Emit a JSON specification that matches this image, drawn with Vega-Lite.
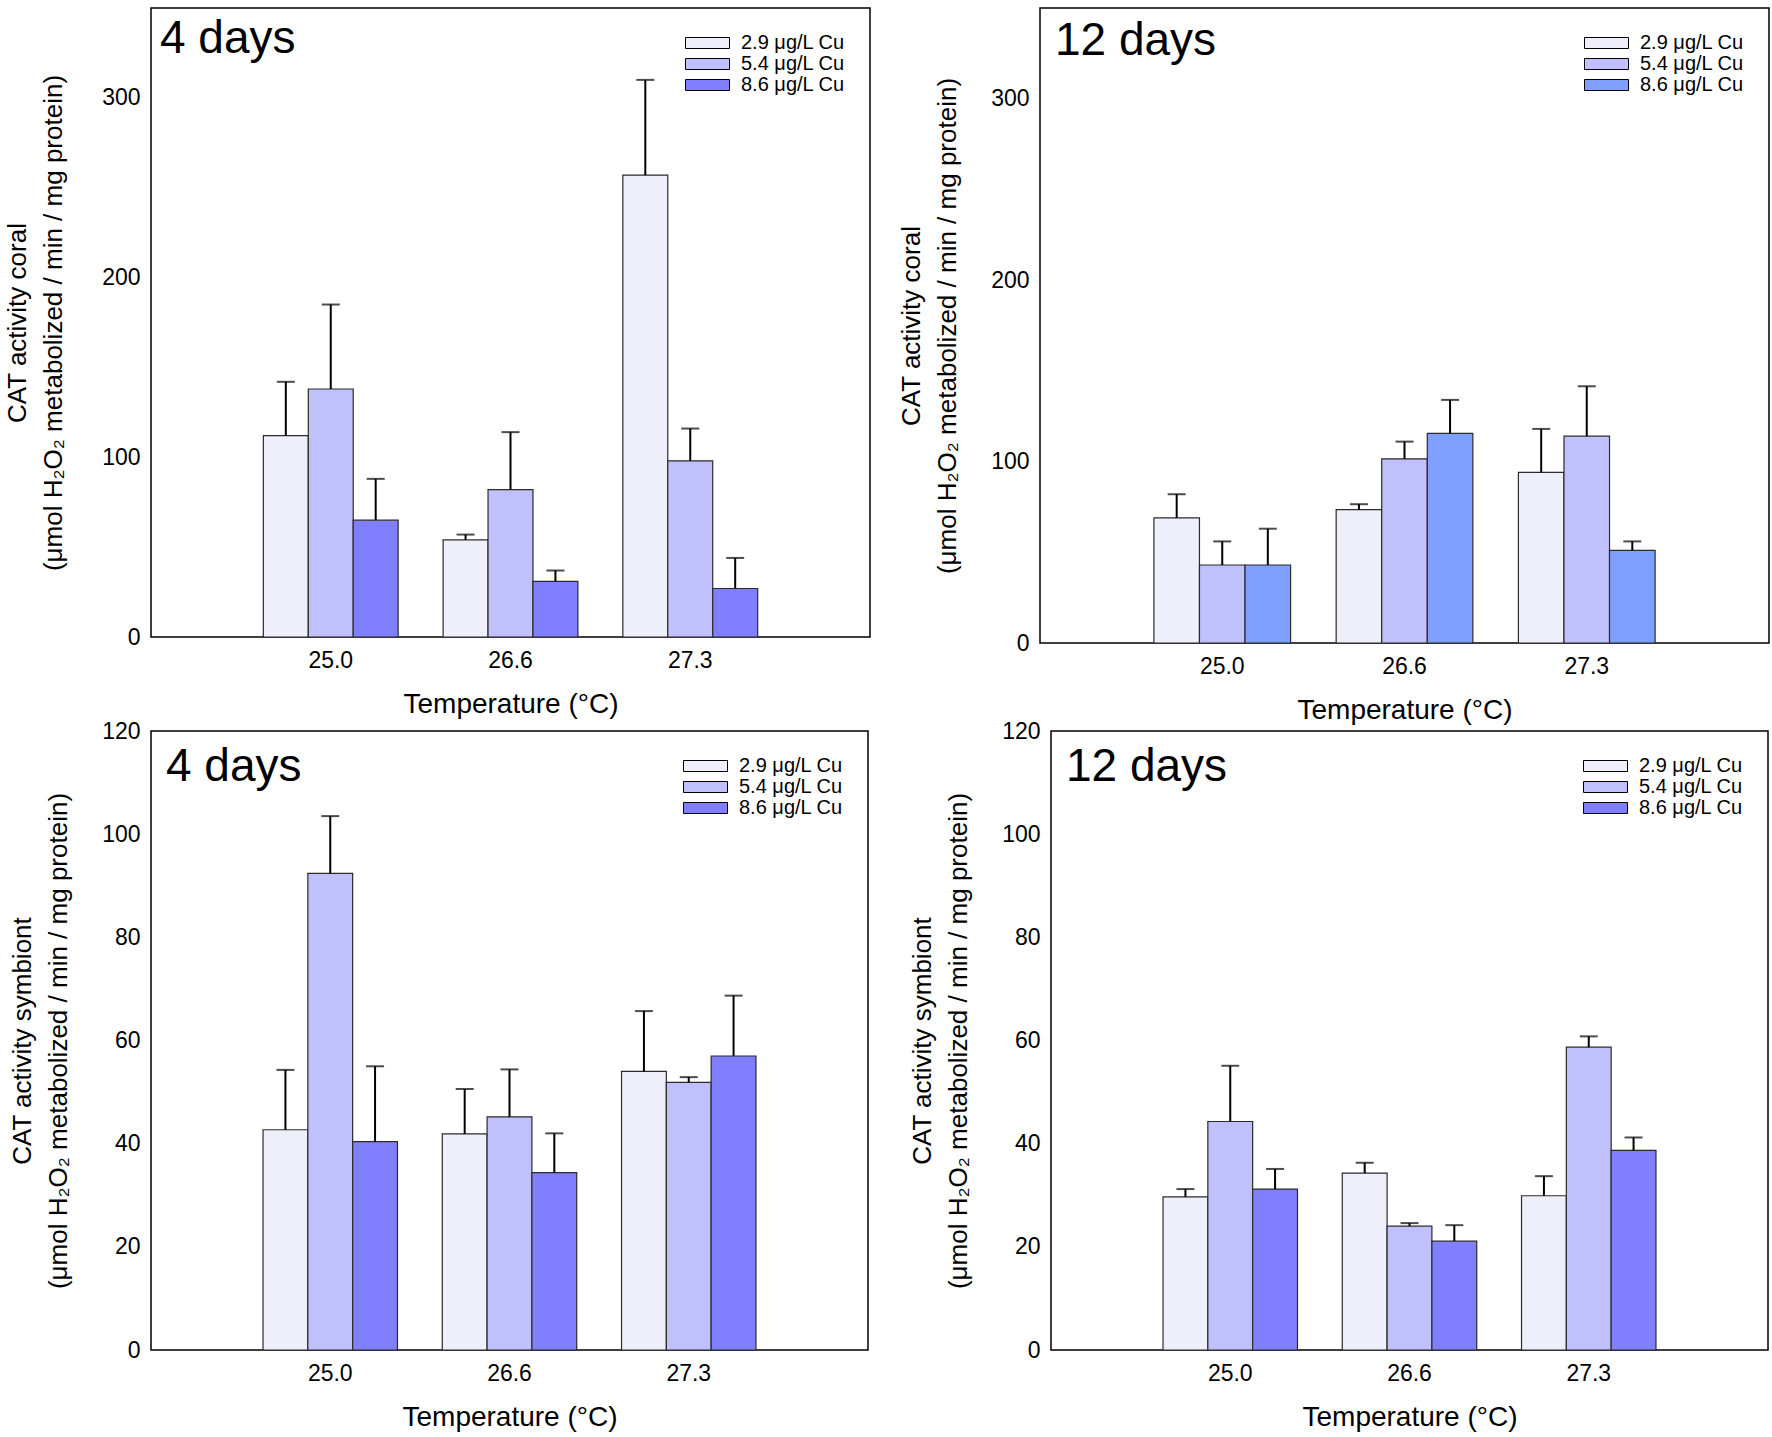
{
  "$schema": "https://vega.github.io/schema/vega-lite/v6.json",
  "background": "white",
  "padding": {"left": 3, "top": 7, "right": 2, "bottom": 2},
  "datasets": {
    "coral4": [
      {"temp": "25.0", "conc": "2.9 μg/L Cu", "mean": 112, "upper": 142},
      {"temp": "25.0", "conc": "5.4 μg/L Cu", "mean": 138, "upper": 185},
      {"temp": "25.0", "conc": "8.6 μg/L Cu", "mean": 65, "upper": 88},
      {"temp": "26.6", "conc": "2.9 μg/L Cu", "mean": 54, "upper": 57},
      {"temp": "26.6", "conc": "5.4 μg/L Cu", "mean": 82, "upper": 114},
      {"temp": "26.6", "conc": "8.6 μg/L Cu", "mean": 31, "upper": 37},
      {"temp": "27.3", "conc": "2.9 μg/L Cu", "mean": 257, "upper": 310},
      {"temp": "27.3", "conc": "5.4 μg/L Cu", "mean": 98, "upper": 116},
      {"temp": "27.3", "conc": "8.6 μg/L Cu", "mean": 27, "upper": 44}
    ],
    "coral12": [
      {"temp": "25.0", "conc": "2.9 μg/L Cu", "mean": 69, "upper": 82},
      {"temp": "25.0", "conc": "5.4 μg/L Cu", "mean": 43, "upper": 56},
      {"temp": "25.0", "conc": "8.6 μg/L Cu", "mean": 43, "upper": 63},
      {"temp": "26.6", "conc": "2.9 μg/L Cu", "mean": 73.5, "upper": 76.5},
      {"temp": "26.6", "conc": "5.4 μg/L Cu", "mean": 101.5, "upper": 111},
      {"temp": "26.6", "conc": "8.6 μg/L Cu", "mean": 115.5, "upper": 134},
      {"temp": "27.3", "conc": "2.9 μg/L Cu", "mean": 94, "upper": 118},
      {"temp": "27.3", "conc": "5.4 μg/L Cu", "mean": 114, "upper": 141.5},
      {"temp": "27.3", "conc": "8.6 μg/L Cu", "mean": 51, "upper": 56}
    ],
    "sym4": [
      {"temp": "25.0", "conc": "2.9 μg/L Cu", "mean": 42.7, "upper": 54.3},
      {"temp": "25.0", "conc": "5.4 μg/L Cu", "mean": 92.4, "upper": 103.5},
      {"temp": "25.0", "conc": "8.6 μg/L Cu", "mean": 40.4, "upper": 55},
      {"temp": "26.6", "conc": "2.9 μg/L Cu", "mean": 41.9, "upper": 50.6},
      {"temp": "26.6", "conc": "5.4 μg/L Cu", "mean": 45.2, "upper": 54.4},
      {"temp": "26.6", "conc": "8.6 μg/L Cu", "mean": 34.4, "upper": 42},
      {"temp": "27.3", "conc": "2.9 μg/L Cu", "mean": 54, "upper": 65.7},
      {"temp": "27.3", "conc": "5.4 μg/L Cu", "mean": 51.9, "upper": 52.9},
      {"temp": "27.3", "conc": "8.6 μg/L Cu", "mean": 57, "upper": 68.7}
    ],
    "sym12": [
      {"temp": "25.0", "conc": "2.9 μg/L Cu", "mean": 29.7, "upper": 31.2},
      {"temp": "25.0", "conc": "5.4 μg/L Cu", "mean": 44.3, "upper": 55.1},
      {"temp": "25.0", "conc": "8.6 μg/L Cu", "mean": 31.2, "upper": 35.1},
      {"temp": "26.6", "conc": "2.9 μg/L Cu", "mean": 34.3, "upper": 36.3},
      {"temp": "26.6", "conc": "5.4 μg/L Cu", "mean": 24, "upper": 24.6},
      {"temp": "26.6", "conc": "8.6 μg/L Cu", "mean": 21.1, "upper": 24.2},
      {"temp": "27.3", "conc": "2.9 μg/L Cu", "mean": 29.9, "upper": 33.7},
      {"temp": "27.3", "conc": "5.4 μg/L Cu", "mean": 58.7, "upper": 60.8},
      {"temp": "27.3", "conc": "8.6 μg/L Cu", "mean": 38.7, "upper": 41.2}
    ]
  },
  "concat": [
    {
      "hconcat": [
        {
          "width": 719, "height": 629,
          "layer": [
            {
              "data": {"name": "coral4"},
              "mark": {"type": "bar", "stroke": "#2b2b2b", "strokeWidth": 1.2},
              "encoding": {
                "x": {"field": "temp", "type": "nominal", "sort": ["25.0", "26.6", "27.3"], "scale": {"paddingInner": 0.25, "paddingOuter": 0.625}, "axis": {"title": "Temperature (°C)"}},
                "xOffset": {"field": "conc", "type": "nominal", "sort": ["2.9 μg/L Cu", "5.4 μg/L Cu", "8.6 μg/L Cu"], "scale": {"paddingInner": 0, "paddingOuter": 0}},
                "y": {"field": "mean", "type": "quantitative", "scale": {"domain": [0, 350], "nice": false}, "axis": {"title": ["CAT activity coral", "(μmol H₂O₂ metabolized / min / mg protein)"], "values": [0, 100, 200, 300], "titlePadding": 35}},
                "color": {"field": "conc", "type": "nominal", "sort": ["2.9 μg/L Cu", "5.4 μg/L Cu", "8.6 μg/L Cu"], "scale": {"range": ["#EFEFFC", "#C0C0FC", "#8080FF"]}}
              }
            },
            {
              "data": {"name": "coral4"},
              "mark": {"type": "rule", "strokeWidth": 2, "color": "black"},
              "encoding": {
                "x": {"field": "temp", "type": "nominal", "sort": ["25.0", "26.6", "27.3"]},
                "xOffset": {"field": "conc", "type": "nominal", "sort": ["2.9 μg/L Cu", "5.4 μg/L Cu", "8.6 μg/L Cu"]},
                "y": {"field": "mean", "type": "quantitative"}, "y2": {"field": "upper"}
              }
            },
            {
              "data": {"name": "coral4"},
              "mark": {"type": "tick", "thickness": 2, "size": 18, "color": "black"},
              "encoding": {
                "x": {"field": "temp", "type": "nominal", "sort": ["25.0", "26.6", "27.3"]},
                "xOffset": {"field": "conc", "type": "nominal", "sort": ["2.9 μg/L Cu", "5.4 μg/L Cu", "8.6 μg/L Cu"]},
                "y": {"field": "upper", "type": "quantitative"}
              }
            },
            {
              "data": {"values": [{"label": "4 days"}]},
              "mark": {"type": "text", "align": "left", "baseline": "alphabetic", "fontSize": 46, "color": "black"},
              "encoding": {
                "text": {"field": "label"},
                "x": {"datum": "25.0", "bandPosition": -0.767},
                "y": {"datum": 325}
              }
            }
          ]
        },
        {
          "width": 729, "height": 635,
          "layer": [
            {
              "data": {"name": "coral12"},
              "mark": {"type": "bar", "stroke": "#2b2b2b", "strokeWidth": 1.2},
              "encoding": {
                "x": {"field": "temp", "type": "nominal", "sort": ["25.0", "26.6", "27.3"], "scale": {"paddingInner": 0.25, "paddingOuter": 0.625}, "axis": {"title": "Temperature (°C)"}},
                "xOffset": {"field": "conc", "type": "nominal", "sort": ["2.9 μg/L Cu", "5.4 μg/L Cu", "8.6 μg/L Cu"], "scale": {"paddingInner": 0, "paddingOuter": 0}},
                "y": {"field": "mean", "type": "quantitative", "scale": {"domain": [0, 350], "nice": false}, "axis": {"title": ["CAT activity coral", "(μmol H₂O₂ metabolized / min / mg protein)"], "values": [0, 100, 200, 300]}},
                "color": {"field": "conc", "type": "nominal", "sort": ["2.9 μg/L Cu", "5.4 μg/L Cu", "8.6 μg/L Cu"], "scale": {"range": ["#EFEFFC", "#C0C0FC", "#80A0FF"]}}
              }
            },
            {
              "data": {"name": "coral12"},
              "mark": {"type": "rule", "strokeWidth": 2, "color": "black"},
              "encoding": {
                "x": {"field": "temp", "type": "nominal", "sort": ["25.0", "26.6", "27.3"]},
                "xOffset": {"field": "conc", "type": "nominal", "sort": ["2.9 μg/L Cu", "5.4 μg/L Cu", "8.6 μg/L Cu"]},
                "y": {"field": "mean", "type": "quantitative"}, "y2": {"field": "upper"}
              }
            },
            {
              "data": {"name": "coral12"},
              "mark": {"type": "tick", "thickness": 2, "size": 18, "color": "black"},
              "encoding": {
                "x": {"field": "temp", "type": "nominal", "sort": ["25.0", "26.6", "27.3"]},
                "xOffset": {"field": "conc", "type": "nominal", "sort": ["2.9 μg/L Cu", "5.4 μg/L Cu", "8.6 μg/L Cu"]},
                "y": {"field": "upper", "type": "quantitative"}
              }
            },
            {
              "data": {"values": [{"label": "12 days"}]},
              "mark": {"type": "text", "align": "left", "baseline": "alphabetic", "fontSize": 46, "color": "black"},
              "encoding": {
                "text": {"field": "label"},
                "x": {"datum": "25.0", "bandPosition": -0.7236},
                "y": {"datum": 324}
              }
            }
          ]
        }
      ],
      "spacing": 26,
      "resolve": {"scale": {"x": "independent", "y": "independent", "color": "independent", "xOffset": "independent"}, "legend": {"color": "independent"}}
    },
    {
      "hconcat": [
        {
          "width": 717, "height": 619,
          "layer": [
            {
              "data": {"name": "sym4"},
              "mark": {"type": "bar", "stroke": "#2b2b2b", "strokeWidth": 1.2},
              "encoding": {
                "x": {"field": "temp", "type": "nominal", "sort": ["25.0", "26.6", "27.3"], "scale": {"paddingInner": 0.25, "paddingOuter": 0.625}, "axis": {"title": "Temperature (°C)"}},
                "xOffset": {"field": "conc", "type": "nominal", "sort": ["2.9 μg/L Cu", "5.4 μg/L Cu", "8.6 μg/L Cu"], "scale": {"paddingInner": 0, "paddingOuter": 0}},
                "y": {"field": "mean", "type": "quantitative", "scale": {"domain": [0, 120], "nice": false}, "axis": {"title": ["CAT activity symbiont", "(μmol H₂O₂ metabolized / min / mg protein)"], "values": [0, 20, 40, 60, 80, 100, 120]}},
                "color": {"field": "conc", "type": "nominal", "sort": ["2.9 μg/L Cu", "5.4 μg/L Cu", "8.6 μg/L Cu"], "scale": {"range": ["#EFEFFC", "#C0C0FC", "#8080FF"]}}
              }
            },
            {
              "data": {"name": "sym4"},
              "mark": {"type": "rule", "strokeWidth": 2, "color": "black"},
              "encoding": {
                "x": {"field": "temp", "type": "nominal", "sort": ["25.0", "26.6", "27.3"]},
                "xOffset": {"field": "conc", "type": "nominal", "sort": ["2.9 μg/L Cu", "5.4 μg/L Cu", "8.6 μg/L Cu"]},
                "y": {"field": "mean", "type": "quantitative"}, "y2": {"field": "upper"}
              }
            },
            {
              "data": {"name": "sym4"},
              "mark": {"type": "tick", "thickness": 2, "size": 18, "color": "black"},
              "encoding": {
                "x": {"field": "temp", "type": "nominal", "sort": ["25.0", "26.6", "27.3"]},
                "xOffset": {"field": "conc", "type": "nominal", "sort": ["2.9 μg/L Cu", "5.4 μg/L Cu", "8.6 μg/L Cu"]},
                "y": {"field": "upper", "type": "quantitative"}
              }
            },
            {
              "data": {"values": [{"label": "4 days"}]},
              "mark": {"type": "text", "align": "left", "baseline": "alphabetic", "fontSize": 46, "color": "black"},
              "encoding": {
                "text": {"field": "label"},
                "x": {"datum": "25.0", "bandPosition": -0.7217},
                "y": {"datum": 110.3}
              }
            }
          ]
        },
        {
          "width": 717, "height": 619,
          "layer": [
            {
              "data": {"name": "sym12"},
              "mark": {"type": "bar", "stroke": "#2b2b2b", "strokeWidth": 1.2},
              "encoding": {
                "x": {"field": "temp", "type": "nominal", "sort": ["25.0", "26.6", "27.3"], "scale": {"paddingInner": 0.25, "paddingOuter": 0.625}, "axis": {"title": "Temperature (°C)"}},
                "xOffset": {"field": "conc", "type": "nominal", "sort": ["2.9 μg/L Cu", "5.4 μg/L Cu", "8.6 μg/L Cu"], "scale": {"paddingInner": 0, "paddingOuter": 0}},
                "y": {"field": "mean", "type": "quantitative", "scale": {"domain": [0, 120], "nice": false}, "axis": {"title": ["CAT activity symbiont", "(μmol H₂O₂ metabolized / min / mg protein)"], "values": [0, 20, 40, 60, 80, 100, 120]}},
                "color": {"field": "conc", "type": "nominal", "sort": ["2.9 μg/L Cu", "5.4 μg/L Cu", "8.6 μg/L Cu"], "scale": {"range": ["#EFEFFC", "#C0C0FC", "#8080FF"]}}
              }
            },
            {
              "data": {"name": "sym12"},
              "mark": {"type": "rule", "strokeWidth": 2, "color": "black"},
              "encoding": {
                "x": {"field": "temp", "type": "nominal", "sort": ["25.0", "26.6", "27.3"]},
                "xOffset": {"field": "conc", "type": "nominal", "sort": ["2.9 μg/L Cu", "5.4 μg/L Cu", "8.6 μg/L Cu"]},
                "y": {"field": "mean", "type": "quantitative"}, "y2": {"field": "upper"}
              }
            },
            {
              "data": {"name": "sym12"},
              "mark": {"type": "tick", "thickness": 2, "size": 18, "color": "black"},
              "encoding": {
                "x": {"field": "temp", "type": "nominal", "sort": ["25.0", "26.6", "27.3"]},
                "xOffset": {"field": "conc", "type": "nominal", "sort": ["2.9 μg/L Cu", "5.4 μg/L Cu", "8.6 μg/L Cu"]},
                "y": {"field": "upper", "type": "quantitative"}
              }
            },
            {
              "data": {"values": [{"label": "12 days"}]},
              "mark": {"type": "text", "align": "left", "baseline": "alphabetic", "fontSize": 46, "color": "black"},
              "encoding": {
                "text": {"field": "label"},
                "x": {"datum": "25.0", "bandPosition": -0.7217},
                "y": {"datum": 110.3}
              }
            }
          ]
        }
      ],
      "spacing": 39,
      "resolve": {"scale": {"x": "independent", "y": "independent", "color": "independent", "xOffset": "independent"}, "legend": {"color": "independent"}}
    }
  ],
  "columns": 1,
  "align": "none",
  "spacing": {"row": -6, "column": 0},
  "resolve": {"scale": {"x": "independent", "y": "independent", "color": "independent", "xOffset": "independent"}, "legend": {"color": "independent"}},
  "config": {
    "font": "Liberation Sans",
    "view": {"stroke": "black", "strokeWidth": 1.5},
    "axis": {"labelFont": "Liberation Sans", "labelFontSize": 23, "labelColor": "black", "titleFont": "Liberation Sans", "titleFontSize": 26, "titleFontWeight": "normal", "titleColor": "black", "ticks": false, "tickSize": 0, "grid": false, "domain": false},
    "axisX": {"labelAngle": 0, "labelPadding": 12, "titlePadding": 18, "titleFontSize": 28},
    "axisY": {"labelPadding": 11, "titlePadding": 30, "titleLineHeight": 36},
    "legend": {"orient": "top-right", "offset": 25, "padding": 0, "title": null, "labelFont": "Liberation Sans", "labelFontSize": 20, "labelColor": "black", "labelOffset": 40, "rowPadding": 1, "symbolType": "M-1,-1H7V1H-1Z", "symbolSize": 121, "symbolStrokeColor": "black", "symbolStrokeWidth": 1}
  }
}
